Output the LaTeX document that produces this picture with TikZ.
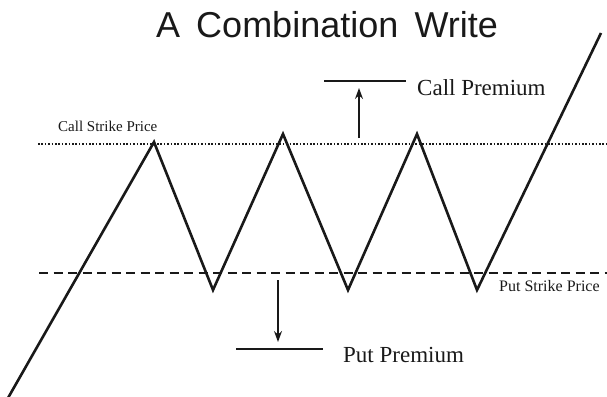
\documentclass[tikz,border=0pt]{standalone}
\usepackage{fontspec}
\setmainfont{Liberation Serif}
\newfontfamily\titlefont{Liberation Sans}
\usetikzlibrary{arrows.meta}

\begin{document}
\begin{tikzpicture}[x=1pt,y=-1pt,line cap=butt,>={Stealth[length=11pt,width=8pt]},color=black!90]
	\tikzset{payoff/.style={line width=2.6pt,line join=miter},
		callline/.style={line width=1.6pt,dash pattern=on 1.5pt off 1.9pt},
		putline/.style={line width=2pt,dash pattern=on 9pt off 5.5pt},
		prembar/.style={line width=1.4pt},
		premarrow/.style={line width=1.2pt,->},
		bigtext/.style={font=\fontsize{23}{26}\selectfont,inner sep=0pt,anchor=west},
		smalltext/.style={font=\fontsize{15}{17}\selectfont,inner sep=0pt,anchor=west}}
	\useasboundingbox (0,0) rectangle (607,396);
	\node[font=\titlefont\fontsize{36}{40}\selectfont,inner sep=0pt] (title) at (327,25) {A\hspace{0.45em}Combination\hspace{0.45em}Write};
	% strike prices
	\draw[callline] (38,144)--(607,144);
	\draw[putline] (39,273)--(607,273);
	\node[smalltext] (callstrike) at (58,126) {Call Strike Price};
	\node[smalltext,font=\fontsize{16}{18}\selectfont] (putstrike) at (499,286) {Put Strike Price};
	% payoff of the written combination
	\draw[payoff] (8,398)--(154,142)--(213,290)--(283,134)--(348,290)--(417,134)--(477,290)--(601,33);
	% call premium
	\coordinate (cpa) at (324,81);
	\coordinate (cpb) at (406,81);
	\coordinate (cpfoot) at (359,138);
	\coordinate (cptip) at (359,88);
	\draw[prembar] (cpa)--(cpb);
	\draw[premarrow] (cpfoot)--(cptip);
	\node[bigtext] (callprem) at (417,88) {Call Premium};
	% put premium
	\coordinate (ppa) at (236,349);
	\coordinate (ppb) at (323,349);
	\coordinate (ppfoot) at (278,280);
	\coordinate (pptip) at (278,342);
	\draw[prembar] (ppa)--(ppb);
	\draw[premarrow] (ppfoot)--(pptip);
	\node[bigtext] (putprem) at (343,355) {Put Premium};
\end{tikzpicture}
\end{document}
